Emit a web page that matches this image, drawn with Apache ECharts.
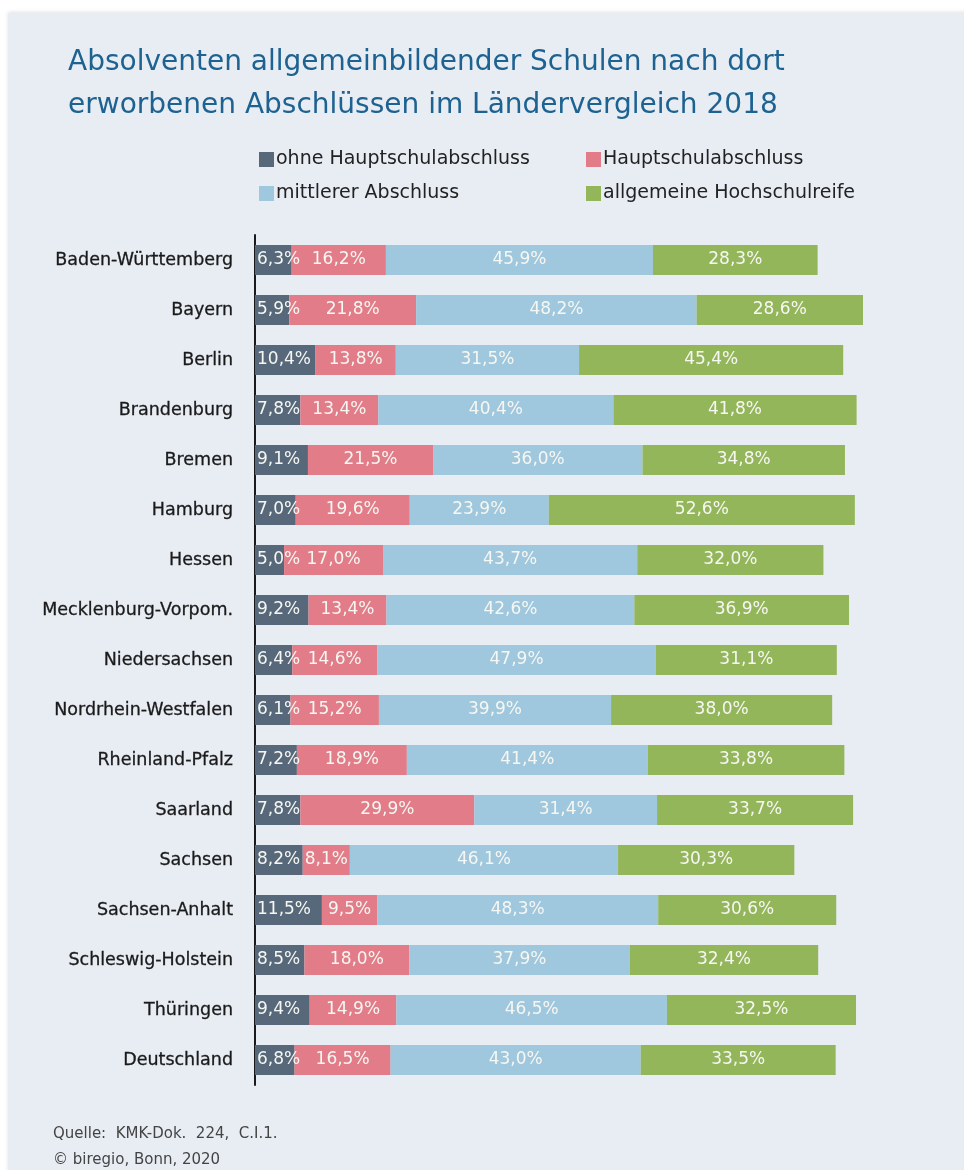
<!DOCTYPE html>
<html lang="de">
<head>
<meta charset="utf-8">
<title>Absolventen allgemeinbildender Schulen 2018</title>
<script src="https://cdn.jsdelivr.net/npm/echarts@6/dist/echarts.min.js"></script>
<style>
  html, body { margin: 0; padding: 0; background: #ffffff; }
  #chart { width: 964px; height: 1170px; }
</style>
</head>
<body>
<div id="chart"></div>
<script>
// Bundesländer (top to bottom)
const laender = [
  'Baden-Württemberg', 'Bayern', 'Berlin', 'Brandenburg', 'Bremen', 'Hamburg',
  'Hessen', 'Mecklenburg-Vorpom.', 'Niedersachsen', 'Nordrhein-Westfalen',
  'Rheinland-Pfalz', 'Saarland', 'Sachsen', 'Sachsen-Anhalt',
  'Schleswig-Holstein', 'Thüringen', 'Deutschland'
];

// Anteile der Absolventen in Prozent
const ohneHauptschulabschluss = [6.3, 5.9, 10.4, 7.8, 9.1, 7.0, 5.0, 9.2, 6.4, 6.1, 7.2, 7.8, 8.2, 11.5, 8.5, 9.4, 6.8];
const hauptschulabschluss     = [16.2, 21.8, 13.8, 13.4, 21.5, 19.6, 17.0, 13.4, 14.6, 15.2, 18.9, 29.9, 8.1, 9.5, 18.0, 14.9, 16.5];
const mittlererAbschluss      = [45.9, 48.2, 31.5, 40.4, 36.0, 23.9, 43.7, 42.6, 47.9, 39.9, 41.4, 31.4, 46.1, 48.3, 37.9, 46.5, 43.0];
const hochschulreife          = [28.3, 28.6, 45.4, 41.8, 34.8, 52.6, 32.0, 36.9, 31.1, 38.0, 33.8, 33.7, 30.3, 30.6, 32.4, 32.5, 33.5];

const reihenNamen = ['ohne Hauptschulabschluss', 'Hauptschulabschluss', 'mittlerer Abschluss', 'allgemeine Hochschulreife'];
const farben = ['#56687a', '#e17c88', '#9fc7dd', '#94b65a'];

const FONT = '"DejaVu Sans", "Open Sans", sans-serif';
const fmt = v => v.toFixed(1).replace('.', ',') + '%';

function reihe(idx, werte, labelPos) {
  return {
    name: reihenNamen[idx],
    type: 'bar',
    stack: 'gesamt',
    barWidth: 30,
    data: werte,
    itemStyle: { color: farben[idx] },
    label: {
      show: true,
      position: labelPos,
      distance: 2,
      color: '#f6f7f2',
      fontFamily: FONT,
      fontSize: 17,
      formatter: p => fmt(p.value)
    },
    emphasis: { disabled: true }
  };
}

const legendText = { color: '#222222', fontFamily: FONT, fontSize: 19, lineHeight: 19, padding: [0, 0, 0, -3] };

const chart = echarts.init(document.getElementById('chart'), null, { renderer: 'canvas' });

chart.setOption({
  backgroundColor: '#ffffff',
  animation: false,
  graphic: [
    {
      type: 'rect',
      z: -10,
      shape: { x: 8, y: 13, width: 964, height: 1170 },
      style: { fill: '#e8edf4', shadowBlur: 4, shadowColor: 'rgba(0,0,0,0.12)', shadowOffsetY: -1 }
    },
    {
      type: 'text',
      left: 53, top: 1127,
      style: { text: 'Quelle:  KMK-Dok.  224,  C.I.1.', fill: '#444444', font: 'normal 15px ' + FONT }
    },
    {
      type: 'text',
      left: 53, top: 1153,
      style: { text: '© biregio, Bonn, 2020', fill: '#444444', font: 'normal 15px ' + FONT }
    }
  ],
  title: {
    text: 'Absolventen allgemeinbildender Schulen nach dort\nerworbenen Abschlüssen im Ländervergleich 2018',
    left: 63, top: 36,
    textStyle: {
      color: '#1d6290',
      fontFamily: FONT,
      fontWeight: 'normal',
      fontSize: 28,
      lineHeight: 43
    }
  },
  legend: [
    {
      data: [reihenNamen[0], reihenNamen[2]],
      orient: 'vertical',
      left: 254, top: 145,
      itemWidth: 15, itemHeight: 15, itemGap: 15,
      icon: 'rect',
      selectedMode: false,
      textStyle: legendText
    },
    {
      data: [reihenNamen[1], reihenNamen[3]],
      orient: 'vertical',
      left: 581, top: 145,
      itemWidth: 15, itemHeight: 15, itemGap: 15,
      icon: 'rect',
      selectedMode: false,
      textStyle: legendText
    }
  ],
  grid: { left: 255, top: 235, right: 69, height: 850 },
  xAxis: {
    type: 'value',
    min: 0, max: 110,
    show: false
  },
  yAxis: {
    type: 'category',
    data: laender,
    inverse: true,
    axisLine: { show: true, lineStyle: { color: '#1a1a1a', width: 2 } },
    axisTick: { show: false },
    axisLabel: {
      margin: 22,
      color: '#1a1a1a',
      fontFamily: FONT,
      fontSize: 17.5,
      fontWeight: 'normal',
      textBorderColor: '#1a1a1a',
      textBorderWidth: 0.3
    }
  },
  series: [
    reihe(0, ohneHauptschulabschluss, 'insideLeft'),
    reihe(1, hauptschulabschluss, 'inside'),
    reihe(2, mittlererAbschluss, 'inside'),
    reihe(3, hochschulreife, 'inside')
  ]
});
</script>
</body>
</html>
